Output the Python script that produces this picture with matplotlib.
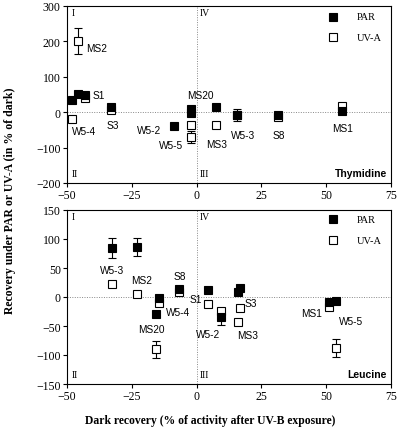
import matplotlib
matplotlib.use("Agg")
import matplotlib.pyplot as plt

# ---------------- data ----------------
# Thymidine panel
thy_strains = ["W5-4", "MS2", "S1", "S3", "W5-2", "MS20", "W5-5", "MS3", "W5-3", "S8", "MS1"]
thy_dark    = [-48.2, -45.8, -43.2, -33.1, -8.7, -2.2, -2.2, 7.3, 15.4, 31.5, 56.2]
thy_par     = [33.5, 52, 49.5, 15, -40, 10, -2, 15, -7.5, -8, 3]
thy_par_err = [0, 0, 0, 0, 0, 0, 0, 0, 17, 0, 0]
thy_uva     = [-18, 201, 40, 7, None, -37, -70, -35, -8, -13, 18]
thy_uva_err = [0, 37, 0, 0, 0, 0, 18, 0, 0, 0, 0]

# Leucine panel
leu_strains = ["W5-3", "MS2", "MS20", "W5-4", "S8", "S1", "W5-2", "S3", "MS3", "MS1", "W5-5"]
leu_dark    = [-32.7, -23.1, -15.6, -14.4, -6.6, 4.4, 9.6, 16.6, 16.0, 51.0, 53.6]
leu_par     = [85, 86, -29, -1, 13.5, 12, -35, 16, 8, -8, -7]
leu_par_err = [17, 16, 0, 0, 0, 0, 13, 0, 0, 0, 0]
leu_uva     = [23, 5, -90, -11, 8, -11.6, -24, -19, -43, -18, -88]
leu_uva_err = [0, 0, 15, 0, 0, 0, 0, 0, 0, 0, 15]

# label anchor (left edge x, center y) in data units
thy_label_pos = {"MS2": (-42.6, 180), "S1": (-40.3, 49), "W5-4": (-48.1, -54), "S3": (-34.9, -37),
                 "W5-2": (-23.0, -50), "W5-5": (-14.7, -94), "MS20": (-3.6, 49), "MS3": (3.6, -89),
                 "W5-3": (13.2, -63), "S8": (29.5, -63), "MS1": (52.3, -45)}
leu_label_pos = {"W5-3": (-37.2, 46), "MS2": (-25.4, 29.5), "S8": (-8.7, 36.5), "S1": (-2.7, -3),
                 "W5-4": (-12.0, -25.5), "MS20": (-22.4, -55), "W5-2": (-0.4, -64), "S3": (18.6, -10),
                 "MS3": (15.8, -65), "MS1": (40.4, -28), "W5-5": (55.0, -42)}

x_ticks = [-50, -25, 0, 25, 50, 75]
thy_yticks = [-200, -100, 0, 100, 200, 300]
leu_yticks = [-150, -100, -50, 0, 50, 100, 150]

serif = "Liberation Serif"
sans = "Liberation Sans"

fig = plt.figure(figsize=(4.0, 4.31), dpi=100)
L, R = 67 / 400, 391 / 400
ax1 = fig.add_axes([L, 1 - 184 / 431, R - L, (184 - 7) / 431])
ax2 = fig.add_axes([L, 1 - 385 / 431, R - L, (385 - 211) / 431])

ms = 5.2

def draw(ax, dark, par, par_err, uva, uva_err, strains, lpos, yticks, name, ylims, legy, quad_y):
    ax.set_xlim(-50, 75)
    ax.set_ylim(*ylims)
    ax.axvline(0, color="#888888", lw=0.7, ls=(0, (1, 1.5)), zorder=0)
    ax.axhline(0, color="#888888", lw=0.7, ls=(0, (1, 1.5)), zorder=0)
    # UV-A (open)
    for x, y, e in zip(dark, uva, uva_err):
        if y is None:
            continue
        if e:
            ax.errorbar(x, y, yerr=e, fmt="none", ecolor="black", elinewidth=0.8, capsize=3, capthick=0.8, zorder=2)
        ax.plot(x, y, "s", ms=ms, mfc="white", mec="black", mew=0.8, zorder=3)
    # PAR (filled)
    for x, y, e in zip(dark, par, par_err):
        if e:
            ax.errorbar(x, y, yerr=e, fmt="none", ecolor="black", elinewidth=0.8, capsize=3, capthick=0.8, zorder=2)
        ax.plot(x, y, "s", ms=ms, mfc="black", mec="black", mew=0.8, zorder=4)
    for s in strains:
        lx, ly = lpos[s]
        ax.text(lx, ly, s, fontsize=7.3, family=sans, ha="left", va="center", zorder=5)
    ax.set_xticks(x_ticks)
    ax.set_yticks(yticks)
    ax.tick_params(direction="out", length=3, width=0.8, labelsize=8.5, pad=1.5)
    for lab in ax.get_xticklabels() + ax.get_yticklabels():
        lab.set_family(serif)
    for sp in ax.spines.values():
        sp.set_linewidth(0.8)
    # quadrant labels
    ax.text(-48.3, quad_y[0], "I", family=serif, fontsize=7, va="center")
    ax.text(1.3, quad_y[0], "IV", family=serif, fontsize=7, va="center")
    ax.text(-48.3, quad_y[1], "II", family=serif, fontsize=7, va="center")
    ax.text(1.3, quad_y[1], "III", family=serif, fontsize=7, va="center")
    ax.text(73.5, quad_y[1], name, family=sans, fontweight="bold", fontsize=7.5, ha="right", va="center")
    # legend
    ax.plot(52.6, legy[0], "s", ms=ms, mfc="black", mec="black", mew=0.8)
    ax.plot(52.6, legy[1], "s", ms=ms, mfc="white", mec="black", mew=0.8)
    ax.text(61.8, legy[0], "PAR", family=serif, fontsize=7.5, va="center")
    ax.text(61.8, legy[1], "UV-A", family=serif, fontsize=7.5, va="center")

draw(ax1, thy_dark, thy_par, thy_par_err, thy_uva, thy_uva_err, thy_strains, thy_label_pos,
     thy_yticks, "Thymidine", (-200, 300), (269, 212), (281, -172))
draw(ax2, leu_dark, leu_par, leu_par_err, leu_uva, leu_uva_err, leu_strains, leu_label_pos,
     leu_yticks, "Leucine", (-150, 150), (134, 98), (138, -133))

fig.text(210 / 400, 1 - 421 / 431, "Dark recovery (% of activity after UV-B exposure)",
         family=serif, fontweight="bold", fontsize=8.4, ha="center", va="center")
fig.text(10 / 400, 1 - 201 / 431, "Recovery under PAR or UV-A (in % of dark)",
         family=serif, fontweight="bold", fontsize=8.5, ha="center", va="center", rotation=90)

fig.savefig("out.png", dpi=100)
